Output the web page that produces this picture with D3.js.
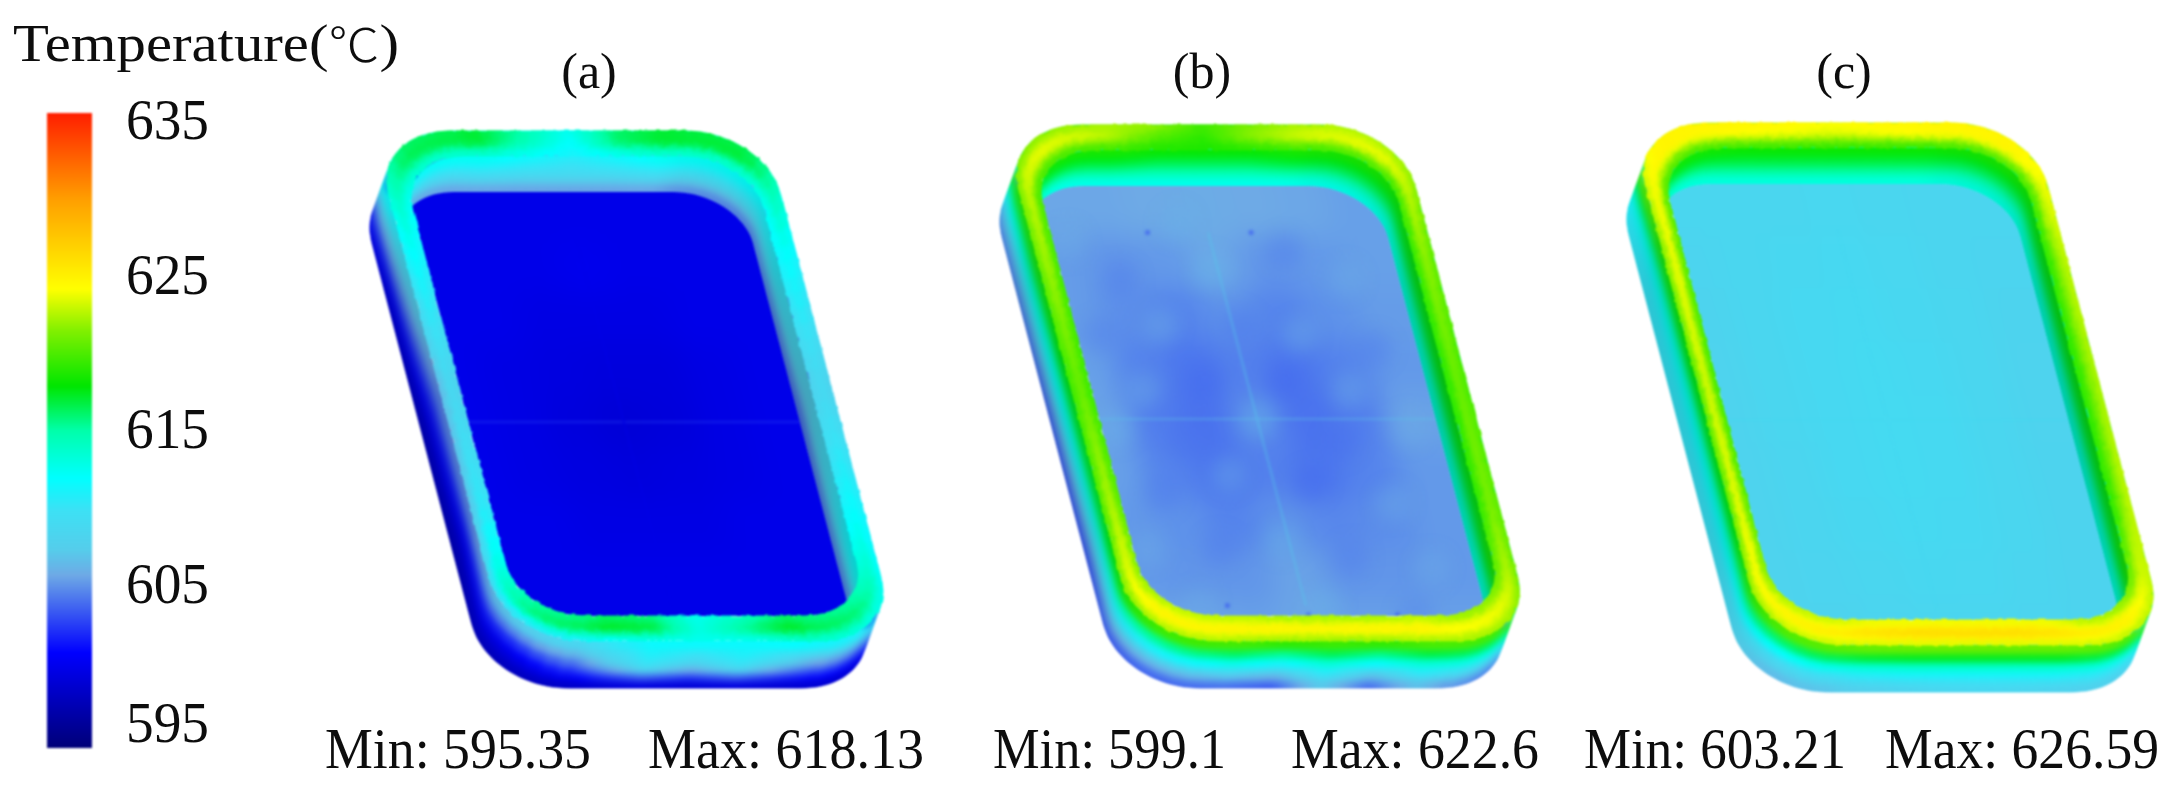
<!DOCTYPE html>
<html><head><meta charset="utf-8">
<script src="https://cdnjs.cloudflare.com/ajax/libs/d3/7.8.5/d3.min.js"></script>
<style>html,body{margin:0;padding:0;background:#fff}svg{display:block}text{font-family:"Liberation Serif","Times New Roman",serif;fill:#111}</style>
</head><body><svg id="c" width="2172" height="795"></svg>
<script>
// ---- data ----
const legendTitleMain = "Temperature(";
const legendTitleUnit = "℃";
const legendTitleEnd = ")";
const tickValues = [595,605,615,625,635];
const panelLabels = ["(a)","(b)","(c)"];
const minLabels = ["Min: 595.35","Min: 599.1","Min: 603.21"];
const maxLabels = ["Max: 618.13","Max: 622.6","Max: 626.59"];
const colorTemps = [595,601,605.9,607.5,610,612,615,617.8,621.3,623.9,629.5,635];
const colorHexes = ["#000078","#0000ff","#6eaae6","#55cdeb","#3ce1f5","#00ffff","#00ffaa","#00e600","#82f000","#ffff00","#ffa000","#ff1e00"];

// Readings around the tray: TL,T1..T5,TR,R1..R3,BR,B1..B5(right to left),BL,L1..L3(bottom to top)
const aWallBottom=[600,600,600,600,600,600,600,600,600,600,598,597.5,597.5,597.5,597.5,597.5,597.5,597.5,597.5,598];
const aWallMid=[606,606,606,606,606,606,606,606,606,606,603,606.5,610,607.5,610,606,601,600,601,604];
const aRimOuter=[616,617,615,612.5,616,617,616.5,611,608,611,612.5,613,612,612.5,612,611,609,606.5,606,610.5];
const aRimMid=[616.5,617,614.5,612,616,617,617,612,609,612,616,617.5,615.5,613,617,617.5,616,611,609,612];
const aRimInner=[613,613,612,611,612,613,613,611,608,611,615,616,614,612.5,615.5,616,615,610,608,610.5];
const aInnerMid=[609,609.5,609,609,609,609.5,609,610,607.5,610,610,610,610,610,610,610,610,609,608,609];
const aInnerBottom=[605,605,605,605,605,605,604,603,603,603,603,603,603,603,603,603,603,603,603,604];

const bWallBottom=[604,604,604,604,604,604,604,604,604,604,603,606,603,606.5,602.5,603,603,602,602,603];
const bWallMid=[610,610,610,610,610,610,610,610,610,610,611,612,610,612,609.5,611,609,609,610.5,611.5];
const bRimOuter=[621,622,622,619.5,621,622,622,620,619.5,620,621.5,621.5,621,621,621,621.5,621.5,619,619,620];
const bRimMid=[624,622.5,620,619,621.5,623,624,622,621,621.5,624,625,625,625,625,625,625,623,621,622.5];
const bRimInner=[619,619,618.5,618.5,618.5,619,619,618.5,618.5,618.5,621,622,621.5,621.5,621.5,622,622,619.5,619,619];
const bInnerMid=[616,616,615.5,615.5,615.5,616,616,616,616,616,616,616,616,616,616,616,616,616,616,616];
const bInnerBottom=[612,612,612,612,612,612,612,612,612,612,612,612,612,612,612,612,612,612,612,612];

const cWallBottom=[610,610,610,610,610,610,610,610,610,610,607,607.5,608,608,607.5,607,606,609.5,610,610];
const cWallMid=[612,612,612,612,612,612,612,612,612,612,611,612,612,612,612,611.5,610,611,611,611];
const cRimOuter=[624.5,624.5,624.5,624,624.5,624.5,624.5,623,622.5,623,622,622.5,622.5,622.5,622.5,622.5,622,619,619,620];
const cRimMid=[624.5,624,623.5,623,623.5,624,624.5,621.5,621,621.5,625,626,626.5,626.5,626.5,626,625,624.5,624,624.5];
const cRimInner=[619,618.5,618.5,618.5,618.5,618.5,619,618.5,618.5,618.5,621,623,623,623,623,623,622,619,618.5,619];
const cInnerMid=[616,616,616,616,616,616,616,616,616,616,616,616,616,616,616,616,616,616,616,616];
const cInnerBottom=[612.5,612.5,612.5,612.5,612.5,612.5,612.5,612,612,612,612,612,612,612,612,612,612,612,612,612];

// Shading of the walls read around the tray (same anchors)
const innerShade=[0,0,0,0,0,0,0.1,0.4,0.45,0.4,0.3,0,0,0,0,0,0,0,0,0];
const outerShade=[0,0,0,0,0,0,0,0,0,0,0,0,0,0,0,0,0,0.25,0.3,0.3];

// Floor readings, rows top to bottom, columns left to right
const aFloor=[[600,600,600,600,600,600,600],[600,600,600,600.2,600,600,600],[600,600,599.8,599.8,599.8,600,600],[600,599.8,599.6,599.5,599.5,599.8,600],[600,599.8,599.5,599.2,599.4,599.8,600],[600,599.8,599.6,599.5,599.6,599.8,600],[600,600,599.8,599.8,599.8,600,600],[600,600,600,600,600,600,600],[600,600,600,600,600,600,600]];
const bFloor=[[605.8,605.8,605.9,606,605.9,605.8,605.6],[605.5,605.3,605.4,605.8,605.3,605.4,605.6],[605.5,605.1,604.8,605.2,604.8,605.2,605.5],[605.6,604.8,604.4,604.7,604.4,604.8,605.4],[605.7,604.6,604.3,605,604.3,604.6,605.7],[605.6,604.8,604.4,604.7,604.4,604.8,605.4],[605.4,605.2,604.8,605.2,604.9,605.1,605.4],[605.4,605.3,605.3,605.7,605.3,605.3,605.4],[605.7,605.7,605.6,605.8,605.6,605.6,605.6]];
const cFloor=[[608.6,608.6,608.6,608.7,608.6,608.5,608.5],[608.4,608.6,608.8,608.9,608.7,608.5,608.4],[608.3,608.6,608.9,609,608.8,608.6,608.3],[608.2,608.6,608.9,609.1,608.9,608.6,608.2],[608.2,608.6,608.9,609.1,609,608.6,608.2],[608.2,608.5,608.9,609.1,609,608.6,608.3],[608.2,608.5,608.8,609,608.9,608.6,608.3],[608.2,608.4,608.6,608.8,608.7,608.5,608.3],[608.2,608.3,608.4,608.5,608.5,608.4,608.3]];

const aSeam=[603,600], bSeam=[607,607.5], cSeam=[608.9,608.9];
// floor spots: u, v, reading
const bSpots=[[.33,.1,603.6],[.62,.1,603.6],[.5,.92,603.8],[.28,.9,603.6],[.75,.92,603.6]];
// floor mottling of (b): u, v, reading
const bMottle=[[.1,.12,606],[.22,.2,604.6],[.42,.08,606.2],[.48,.18,606.4],[.7,.14,604.6],[.85,.2,606],[.12,.32,604.7],[.3,.3,606],[.52,.3,604.4],[.68,.32,606],[.88,.35,604.6],[.2,.44,606],[.38,.42,604],[.6,.42,603.9],[.78,.44,606],[.1,.52,606.2],[.28,.55,604.3],[.5,.5,606.4],[.72,.55,604.2],[.92,.52,606],[.18,.66,604.6],[.38,.62,606],[.6,.64,604],[.82,.68,606],[.1,.78,606],[.3,.78,604.6],[.48,.76,606.2],[.66,.8,604.6],[.88,.82,606],[.2,.9,606],[.55,.9,606.2],[.8,.92,604.8]];

// ---- layout ----
const panels=[
 {x0:372,y0:131,w:392,h:510,wall:[aWallBottom,aWallMid],rim:[aRimOuter,aRimMid,aRimInner],inner:[aInnerMid,aInnerBottom],floor:aFloor,seam:aSeam,spots:[],mottle:[]},
 {x0:1002,y0:125,w:397,h:516,wall:[bWallBottom,bWallMid],rim:[bRimOuter,bRimMid,bRimInner],inner:[bInnerMid,bInnerBottom],floor:bFloor,seam:bSeam,spots:bSpots,mottle:bMottle},
 {x0:1629,y0:123,w:402,h:522,wall:[cWallBottom,cWallMid],rim:[cRimOuter,cRimMid,cRimInner],inner:[cInnerMid,cInnerBottom],floor:cFloor,seam:cSeam,spots:[],mottle:[]}
];
const shear=.262, wallVec=[-17,47], floorVec=[-11,36], rimW=20, rimH=25;
const outerR=[78,62], innerR=[66,52];
const color=d3.scaleLinear().domain(colorTemps).range(colorHexes).clamp(true);

const svg=d3.select("#c");
const defs=svg.append("defs");

function softFilter(id,sd,rough){
  const f=defs.append("filter").attr("id",id).attr("x","-10%").attr("y","-10%").attr("width","120%").attr("height","120%").attr("color-interpolation-filters","sRGB");
  f.append("feGaussianBlur").attr("stdDeviation",sd).attr("result","b");
  let inName="b";
  if(rough){
    f.append("feTurbulence").attr("type","fractalNoise").attr("baseFrequency",.14).attr("numOctaves",2).attr("seed",4).attr("result","n");
    f.append("feDisplacementMap").attr("in","b").attr("in2","n").attr("scale",rough).attr("xChannelSelector","R").attr("yChannelSelector","G").attr("result","d");
    inName="d";
  }
  const t=f.append("feComponentTransfer").attr("in",inName);
  t.append("feFuncA").attr("type","linear").attr("slope",6).attr("intercept",-2.5);
}
softFilter("soft",3,0);
softFilter("softRim",2.5,4);
softFilter("softInner",3,0);
softFilter("softFloor",14,0);
defs.append("filter").attr("id","image").attr("color-interpolation-filters","sRGB").append("feGaussianBlur").attr("stdDeviation",.9);
defs.append("filter").attr("id","mott").attr("x","-40%").attr("y","-40%").attr("width","180%").attr("height","180%").attr("color-interpolation-filters","sRGB").append("feGaussianBlur").attr("stdDeviation",9);
defs.append("filter").attr("id","txt").attr("x","-5%").attr("y","-20%").attr("width","110%").attr("height","140%").append("feGaussianBlur").attr("stdDeviation",.55);

const lerp=(a,b,t)=>a+(b-a)*t;
function ringPoint(p,f,shift,s){
  const sx=d3.scaleLinear().domain([0,p.w]).range([p.x0,p.x0+p.w]);
  const sy=d3.scaleLinear().domain([0,p.h]).range([p.y0,p.y0+p.h]);
  const ix=f*rimW,iy=f*rimH,rx=lerp(outerR[0],innerR[0],f),ry=lerp(outerR[1],innerR[1],f);
  const L=ix,R=p.w-ix,T=iy,B=p.h-iy;
  s=((s%20)+20)%20; if(s<.5)s+=20;
  let X,Y;
  const arc=(cx,cy,a0,t)=>{const a=(a0+t*90)*Math.PI/180;X=cx+rx*Math.cos(a);Y=cy+ry*Math.sin(a);};
  if(s<5.5){X=lerp(L+rx,R-rx,(s-.5)/5);Y=T;}
  else if(s<6.5)arc(R-rx,T+ry,-90,s-5.5);
  else if(s<9.5){X=R;Y=lerp(T+ry,B-ry,(s-6.5)/3);}
  else if(s<10.5)arc(R-rx,B-ry,0,s-9.5);
  else if(s<15.5){X=lerp(R-rx,L+rx,(s-10.5)/5);Y=B;}
  else if(s<16.5)arc(L+rx,B-ry,90,s-15.5);
  else if(s<19.5){X=L;Y=lerp(B-ry,T+ry,(s-16.5)/3);}
  else arc(L+rx,T+ry,180,s-19.5);
  return [sx(X)+shear*Y+shift[0],sy(Y)+shift[1]];
}
function sample(arr,s){const n=arr.length,i=Math.floor(s),t=s-i;return lerp(arr[((i%n)+n)%n],arr[((i+1)%n+n)%n],t);}
const line=d3.line();
function ringPath(p,f,shift){const pts=d3.range(0,20,.05).map(s=>ringPoint(p,f,shift,s));return line(pts)+"Z";}

function strips(g,p,st,shade){
  const sub=8, bands=3, segs=d3.range(0,20,1/sub);
  const data=[];
  for(let k=0;k<st.length-1;k++){
    const a=st[k],b=st[k+1];
    for(let j=0;j<bands;j++){
      const t0=j/bands,t1=(j+1)/bands,tm=(t0+t1)/2;
      const mix=(t)=>({f:lerp(a.f,b.f,t),sh:[lerp(a.sh[0],b.sh[0],t),lerp(a.sh[1],b.sh[1],t)]});
      const m0=mix(t0),m1=mix(t1);
      segs.forEach(s=>{
        const e=s+1/sub,c=s+.5/sub,v=lerp(sample(a.arr,c),sample(b.arr,c),tm);
        let col=color(v);
        if(shade){const k2=sample(shade,c);if(k2>0)col=d3.rgb(col).darker(k2*1.4).formatHex();}
        const pts=[ringPoint(p,m0.f,m0.sh,s),ringPoint(p,m0.f,m0.sh,e),ringPoint(p,m1.f,m1.sh,e),ringPoint(p,m1.f,m1.sh,s)];
        data.push({pts,col});
      });
    }
  }
  g.selectAll("path").data(data).join("path").attr("d",d=>line(d.pts)+"Z").attr("fill",d=>d.col).attr("stroke",d=>d.col).attr("stroke-width",1);
}

const scene=svg.append("g").attr("filter","url(#image)");
panels.forEach((p,pi)=>{
  const g=scene.append("g");
  const z0=[0,0],wv=(t)=>[wallVec[0]*t,wallVec[1]*t],fv=(t)=>[floorVec[0]*t,floorVec[1]*t];
  strips(g.append("g").attr("filter","url(#soft)"),p,[
    {f:0,sh:wv(1),arr:p.wall[0]},{f:0,sh:wv(.55),arr:p.wall[1]},{f:0,sh:z0,arr:p.rim[0]}],outerShade);
  const cid="clipIn"+pi, fid="clipFl"+pi;
  defs.append("clipPath").attr("id",cid).append("path").attr("d",ringPath(p,1,z0));
  defs.append("clipPath").attr("id",fid).append("path").attr("d",ringPath(p,1,fv(1)));
  const ins=g.append("g").attr("clip-path",`url(#${cid})`);
  strips(ins.append("g").attr("filter","url(#softInner)"),p,[
    {f:1,sh:z0,arr:p.rim[2]},{f:1,sh:fv(.55),arr:p.inner[0]},{f:1,sh:fv(1),arr:p.inner[1]}],innerShade);
  const fl=ins.append("g").attr("clip-path",`url(#${fid})`);
  const cells=fl.append("g").attr("filter","url(#softFloor)");
  const rows=p.floor.length,cols=p.floor[0].length;
  const fy0=p.y0+rimH+floorVec[1],fh=p.h-2*rimH,fx0=p.x0+rimW+floorVec[0]+shear*rimH,fw=p.w-2*rimW;
  const u=d3.scaleLinear().domain([0,1]).range([fx0,fx0+fw]), v=d3.scaleLinear().domain([0,1]).range([fy0,fy0+fh]);
  const pt=(a,b)=>[u(a)+shear*(v(b)-fy0),v(b)];
  const cellData=[];
  for(let r=-3;r<rows+3;r++)for(let c=-3;c<cols+3;c++){
    const rr=Math.max(0,Math.min(rows-1,r)),cc=Math.max(0,Math.min(cols-1,c));
    cellData.push({c,r,val:p.floor[rr][cc]});
  }
  cells.selectAll("path").data(cellData).join("path")
    .attr("d",d=>line([pt(d.c/cols,d.r/rows),pt((d.c+1)/cols,d.r/rows),pt((d.c+1)/cols,(d.r+1)/rows),pt(d.c/cols,(d.r+1)/rows)])+"Z")
    .attr("fill",d=>color(d.val)).attr("stroke",d=>color(d.val));
  fl.append("g").attr("filter","url(#mott)").attr("opacity",.4).selectAll("circle").data(p.mottle).join("circle")
    .attr("cx",d=>pt(d[0],d[1])[0]).attr("cy",d=>pt(d[0],d[1])[1]).attr("r",18).attr("fill",d=>color(d[2]));
  const seams=fl.append("g").attr("filter","url(#image)").attr("opacity",.45).attr("fill","none").attr("stroke-width",2);
  seams.append("path").attr("d",line([pt(0,.5),pt(1,.5)])).attr("stroke",color(p.seam[0]));
  seams.append("path").attr("d",line([pt(.5,.1),pt(.5,.9)])).attr("stroke",color(p.seam[1]));
  fl.append("g").attr("filter","url(#image)").attr("opacity",.7).selectAll("circle").data(p.spots).join("circle")
    .attr("cx",d=>pt(d[0],d[1])[0]).attr("cy",d=>pt(d[0],d[1])[1]).attr("r",2.5).attr("fill",d=>color(d[2]));
  strips(g.append("g").attr("filter","url(#softRim)"),p,[
    {f:0,sh:z0,arr:p.rim[0]},{f:.5,sh:z0,arr:p.rim[1]},{f:1,sh:z0,arr:p.rim[2]}],null);
});

// ---- legend ----
const barY=d3.scaleLinear().domain([595,635]).range([748,113]);
const grad=defs.append("linearGradient").attr("id","bar").attr("x1",0).attr("x2",0).attr("y1",1).attr("y2",0);
colorTemps.forEach(t=>grad.append("stop").attr("offset",(t-595)/40).attr("stop-color",color(t)));
scene.append("rect").attr("x",47).attr("width",45).attr("y",barY(635)).attr("height",barY(595)-barY(635)).attr("fill","url(#bar)");

const tickPos=d3.scaleLinear().domain([595,605,615,625,635]).range([725,586,431,277,122]);
const txt=svg.append("g").attr("filter","url(#txt)");
const axisG=txt.append("g").attr("transform","translate(126,0)").call(d3.axisRight(tickPos).tickValues(tickValues).tickSize(0).tickPadding(0));
axisG.select(".domain").remove();
axisG.selectAll("text").attr("font-size",58).attr("dy","0.28em").attr("x",0).attr("textLength",83).attr("lengthAdjust","spacingAndGlyphs").style("fill","#111");
axisG.attr("font-size",null).attr("font-family",null);

const title=txt.append("text").attr("x",13).attr("y",61).attr("font-size",53);
title.append("tspan").text(legendTitleMain);
title.append("tspan").text(legendTitleUnit).attr("font-weight",300).attr("font-size",46).style("font-family","'Noto Sans CJK SC'");
title.append("tspan").text(legendTitleEnd);
title.attr("textLength",386).attr("lengthAdjust","spacingAndGlyphs");

const labelX=[589,1202,1844];
txt.selectAll(".pl").data(panelLabels).join("text").attr("class","pl").text(d=>d).attr("x",(d,i)=>labelX[i]).attr("y",88).attr("text-anchor","middle").attr("font-size",50);
const minX=[[325,266],[993,233],[1584,262]], maxX=[[648,276],[1291,248],[1885,274]];
const bot=(arr,pos,cls)=>txt.selectAll("."+cls).data(arr).join("text").attr("class",cls).text(d=>d).attr("x",(d,i)=>pos[i][0]).attr("y",768).attr("font-size",56).attr("textLength",(d,i)=>pos[i][1]).attr("lengthAdjust","spacingAndGlyphs");
bot(minLabels,minX,"mn");bot(maxLabels,maxX,"mx");
</script></body></html>
